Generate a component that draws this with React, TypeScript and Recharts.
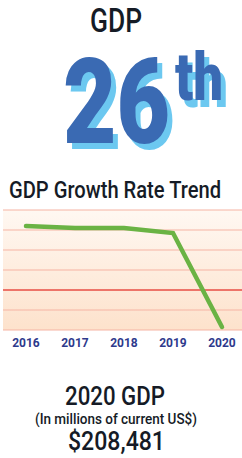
import { CartesianGrid, Line, LineChart, ReferenceLine, XAxis, YAxis } from 'recharts';

const years = ['2016', '2017', '2018', '2019', '2020'];
const growthRates = [3.2, 3.1, 3.1, 2.85, -1.85];
const yTicks = [-2, -1, 0, 1, 2, 3, 4];

const data = years.map((year, i) => ({ year, rate: growthRates[i] }));

const dark = '#151b26';
const blue = '#3a6ab3';
const lightBlue = '#6cc8f0';
const font = 'Roboto, "Open Sans", sans-serif';

export default function App() {
  return (
    <div style={{ position: 'absolute', left: 0, top: 0, width: 242, height: 458, background: '#fff' }}>
      <svg width={242} height={458} style={{ position: 'absolute', left: 0, top: 0 }}>
        <text x={90} y={32} fontFamily={font} fontWeight={500} fontSize={33} fill={dark} textLength={52} lengthAdjust="spacingAndGlyphs">
          GDP
        </text>
        <g fontFamily={font} fontWeight={900}>
          <text x={68} y={149} fontSize={118} fill={lightBlue} textLength={107} lengthAdjust="spacingAndGlyphs">26</text>
          <text x={180} y={107} fontSize={66} fill={lightBlue} textLength={48} lengthAdjust="spacingAndGlyphs">th</text>
          <text x={63} y={143} fontSize={118} fill={blue} textLength={107} lengthAdjust="spacingAndGlyphs">26</text>
          <text x={175} y={100} fontSize={66} fill={blue} textLength={48} lengthAdjust="spacingAndGlyphs">th</text>
        </g>
        <text x={9} y={198} fontFamily={font} fontWeight={500} fontSize={24} fill={dark} textLength={212} lengthAdjust="spacingAndGlyphs">
          GDP Growth Rate Trend
        </text>
        <g fontFamily={font} fontWeight={500} fill={dark}>
          <text x={65} y={405} fontSize={25} textLength={100} lengthAdjust="spacingAndGlyphs">2020 GDP</text>
          <text x={35} y={424} fontSize={15} textLength={162} lengthAdjust="spacingAndGlyphs">(In millions of current US$)</text>
          <text x={68} y={450} fontSize={25} textLength={97} lengthAdjust="spacingAndGlyphs">$208,481</text>
        </g>
      </svg>
      <div style={{ position: 'absolute', left: 0, top: 200 }}>
        <LineChart width={242} height={160} data={data} margin={{ top: 10, right: 0, bottom: 0, left: 3 }}>
          <defs>
            <linearGradient id="bg" x1="0" y1="0" x2="0" y2="1">
              <stop offset="0%" stopColor="#fff8f2" />
              <stop offset="100%" stopColor="#fde2cc" />
            </linearGradient>
          </defs>
          <CartesianGrid vertical={false} stroke="#f5b3a4" strokeWidth={1.2} fill="url(#bg)" fillOpacity={1} />
          <XAxis
            dataKey="year"
            padding={{ left: 23, right: 20 }}
            tickLine={false}
            axisLine={false}
            tickMargin={2}
            height={30}
            tick={{ fill: '#2e3a8c', fontSize: 12, fontWeight: 700, fontFamily: font }}
          />
          <YAxis hide domain={[-2, 4]} ticks={yTicks} interval={0} />
          <ReferenceLine y={0} stroke="#e8564c" strokeWidth={1.5} />
          <Line
            type="linear"
            dataKey="rate"
            stroke="#6ab344"
            strokeWidth={4.5}
            strokeLinecap="round"
            dot={false}
            isAnimationActive={false}
          />
        </LineChart>
      </div>
    </div>
  );
}
